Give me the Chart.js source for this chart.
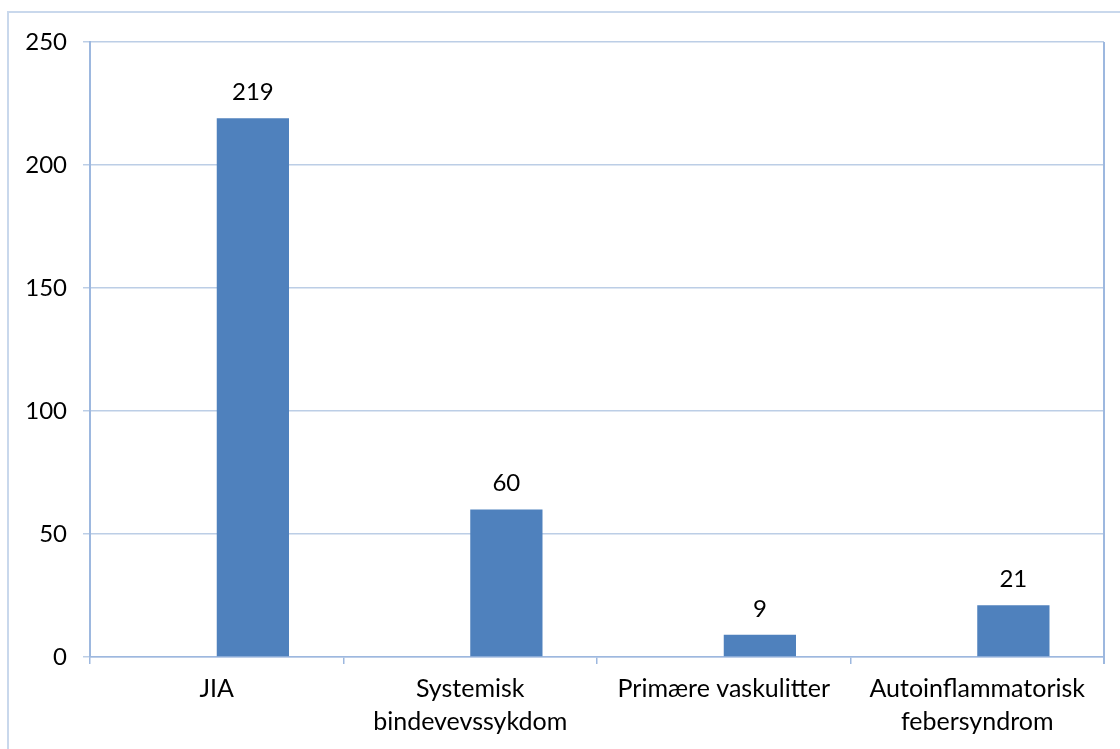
<!DOCTYPE html>
<html>
<head>
<meta charset="utf-8">
<script src="https://cdn.jsdelivr.net/npm/chart.js@4.4.1/dist/chart.umd.min.js"></script>
<style>
  html, body { margin: 0; padding: 0; background: #ffffff; }
  #wrap { position: relative; width: 1120px; height: 749px; }
</style>
</head>
<body>
<div id="wrap"><canvas id="chart" width="1120" height="749"></canvas></div>
<script>
// Diagnosis groups and patient counts
const categories = [
  ['JIA'],
  ['Systemisk', 'bindevevssykdom'],
  ['Primære vaskulitter'],
  ['Autoinflammatorisk', 'febersyndrom']
];
const counts = [219, 60, 9, 21];
const emptySeries = [null, null, null, null];
const yTicks = [0, 50, 100, 150, 200, 250];

const FONT = 'Lato, "Open Sans", sans-serif';
const BAR = '#4f81bd';
const GRID = '#bccee6';
const AXIS = '#9db8df';

// Outer frame plus the right-hand edge of the plot area
const framePlugin = {
  id: 'frame',
  afterDraw(chart) {
    const { ctx, chartArea } = chart;
    ctx.save();
    ctx.strokeStyle = '#c9d8ec';
    ctx.lineWidth = 2;
    ctx.beginPath();
    ctx.moveTo(8, 760);
    ctx.lineTo(8, 12);
    ctx.lineTo(1130, 12);
    ctx.stroke();
    ctx.strokeStyle = AXIS;
    ctx.lineWidth = 2;
    ctx.beginPath();
    ctx.moveTo(chartArea.right, chartArea.top);
    ctx.lineTo(chartArea.right, chartArea.bottom + 7);
    ctx.stroke();
    ctx.restore();
  }
};

// Value labels above each bar
const valueLabels = {
  id: 'valueLabels',
  afterDatasetsDraw(chart) {
    const { ctx } = chart;
    const meta = chart.getDatasetMeta(1);
    ctx.save();
    ctx.font = '24px ' + FONT;
    ctx.fillStyle = '#000000';
    ctx.textAlign = 'center';
    ctx.textBaseline = 'middle';
    meta.data.forEach((bar, i) => {
      ctx.fillText(String(counts[i]), bar.x, bar.y - 26);
    });
    ctx.restore();
  }
};

new Chart(document.getElementById('chart'), {
  type: 'bar',
  data: {
    labels: categories,
    datasets: [
      { data: emptySeries, backgroundColor: BAR },
      { data: counts, backgroundColor: BAR }
    ]
  },
  options: {
    responsive: false,
    animation: false,
    devicePixelRatio: 1,
    layout: { padding: { top: 42, right: 16, left: 0, bottom: 0 } },
    plugins: {
      legend: { display: false },
      tooltip: { enabled: false }
    },
    datasets: {
      bar: { categoryPercentage: 0.57, barPercentage: 1.0 }
    },
    scales: {
      x: {
        offset: true,
        grid: {
          offset: true,
          drawOnChartArea: false,
          drawTicks: true,
          tickLength: 7,
          color: AXIS,
          lineWidth: 1.5
        },
        border: { display: true, color: AXIS, width: 1.5 },
        ticks: {
          color: '#000000',
          font: { family: FONT, size: 25, lineHeight: 1.32 },
          padding: 8,
          maxRotation: 0,
          autoSkip: false
        },
        afterFit(scale) { scale.height = 92; }
      },
      y: {
        min: 0,
        max: 250,
        afterBuildTicks(scale) { scale.ticks = yTicks.map(v => ({ value: v })); },
        grid: {
          color: GRID,
          lineWidth: 1.5,
          drawTicks: true,
          tickLength: 7
        },
        border: { display: true, color: AXIS, width: 2 },
        ticks: {
          color: '#000000',
          font: { family: FONT, size: 24 },
          padding: 16
        },
        afterFit(scale) { scale.width = 90; }
      }
    }
  },
  plugins: [framePlugin, valueLabels]
});
</script>
</body>
</html>
